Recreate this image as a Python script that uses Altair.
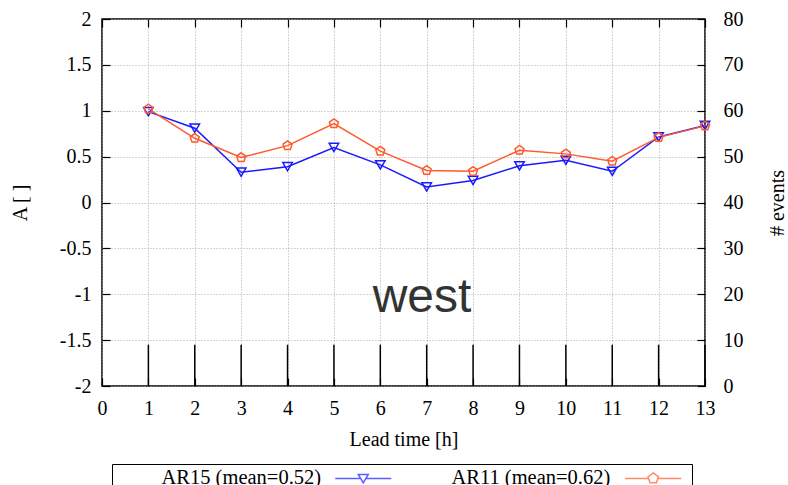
import altair as alt
import pandas as pd

# ---------------- data ----------------
lead_time = [1, 2, 3, 4, 5, 6, 7, 8, 9, 10, 11, 12, 13]
ar15_values = [0.99, 0.81, 0.33, 0.39, 0.60, 0.41, 0.17, 0.24, 0.40, 0.46, 0.34, 0.715, 0.84]
ar11_values = [1.02, 0.70, 0.49, 0.62, 0.86, 0.56, 0.35, 0.34, 0.57, 0.53, 0.45, 0.71, 0.835]
event_counts = [9, 9, 9, 9, 9, 9, 9, 9, 9, 9, 9, 9, 9]
series_names = ["AR15 (mean=0.52)", "AR11 (mean=0.62)"]
x_ticks = [0, 1, 2, 3, 4, 5, 6, 7, 8, 9, 10, 11, 12, 13]
a_ticks = [-2, -1.5, -1, -0.5, 0, 0.5, 1, 1.5, 2]
event_ticks = [0, 10, 20, 30, 40, 50, 60, 70, 80]
region_label = ["west"]

# ---------------- styles ----------------
series_colors = ["#1a1aff", "#ff5a2b"]
PENT = "M0,-1L0.951,-0.309L0.588,0.809L-0.588,0.809L-0.951,-0.309Z"
# legend samples: drawn to the right of the label (path units = 5 px)
LEG_TRI = ("M36.8,0L41.87,0M42.93,0L48.0,0"
           "M41.4,-0.8L43.4,-0.8L42.4,0.9Z"
           "M48.6,0L48.6,0")
LEG_PENT = ("M36.8,0L41.46,0M43.34,0L48.0,0"
            "M42.4,-1.1L43.446,-0.34L43.047,0.89L41.753,0.89L41.354,-0.34Z"
            "M48.6,0L48.6,0")
SERIF = "Liberation Serif"
W, H = 603, 367
LABEL_X, LABEL_Y = 6.9, -1.19

rows = []
for i, (name, vals) in enumerate(zip(series_names, [ar15_values, ar11_values])):
    for t, v in zip(lead_time, vals):
        rows.append({"lead": t, "A": v, "series": name, "order": i})
series_df = pd.DataFrame(rows)
events_df = pd.DataFrame({"lead": lead_time, "events": event_counts})
label_df = pd.DataFrame({"lead": [LABEL_X], "A": [LABEL_Y], "text": region_label})

x_scale = alt.Scale(domain=[0, 13], nice=False, zero=False)
a_scale = alt.Scale(domain=[-2, 2], nice=False, zero=False)
ev_scale = alt.Scale(domain=[0, 80], nice=False)

x_enc = alt.X(
    "lead:Q", scale=x_scale,
    axis=alt.Axis(orient="bottom", values=x_ticks, title="Lead time [h]", grid=True,
                  offset=-8, tickSize=8, domain=False, labelPadding=12, titlePadding=11,
                  labelFlush=False, labelOverlap=False, labelExpr="toString(datum.value)"),
)
y_enc = alt.Y(
    "A:Q", scale=a_scale,
    axis=alt.Axis(orient="left", values=a_ticks, title="A [ ]", grid=True,
                  offset=-8, tickSize=8, domain=False, labelPadding=11,
                  titleAngle=270, titleBaseline="alphabetic", titleAlign="center",
                  titleX=-84, titleY=H / 2,
                  labelExpr="toString(datum.value)"),
)

zero_line = alt.Chart(series_df).mark_rule(color="black", strokeWidth=1).encode(
    x=x_enc, y=alt.datum(0)
).transform_filter("datum.order == 0 && datum.lead == 1")

lines = alt.Chart(series_df).mark_line(strokeWidth=1.5).encode(
    x=x_enc, y=y_enc,
    color=alt.Color("series:N", scale=alt.Scale(domain=series_names, range=series_colors), legend=None),
    order="lead:Q",
)

points = alt.Chart(series_df).mark_point(filled=False, size=90, strokeWidth=1.5, opacity=1).encode(
    x=x_enc, y=y_enc,
    color=alt.Color("series:N", scale=alt.Scale(domain=series_names, range=series_colors), legend=None),
    shape=alt.Shape("series:N", scale=alt.Scale(domain=series_names, range=["triangle-down", PENT]), legend=None),
)

text = alt.Chart(label_df).mark_text(
    font="Liberation Sans", fontSize=48, color="#333333", align="center", baseline="alphabetic"
).encode(x=x_enc, y=y_enc, text="text:N")

a_layers = alt.layer(zero_line, lines, points, text)

events_layer = alt.Chart(events_df).mark_rule(color="black", strokeWidth=1.5).encode(
    x=alt.X("lead:Q", scale=x_scale,
            axis=alt.Axis(orient="top", values=x_ticks, labels=False, title=None, grid=False,
                          offset=-8, tickSize=8, domain=False)),
    y=alt.Y("events:Q", scale=ev_scale,
            axis=alt.Axis(orient="right", values=event_ticks, title="# events", grid=False,
                          offset=-8, tickSize=8, domain=False, labelPadding=18,
                          titleAngle=270, titleBaseline="alphabetic", titleAlign="center",
                          titleX=86, titleY=H / 2)),
    y2=alt.datum(0),
)

legend_obj = alt.Legend(
    title=" ", titleOrient="left", titlePadding=25, titleFontSize=20, titleFont=SERIF,
    orient="none", direction="horizontal", legendX=10, legendY=445,
    labelAlign="left", labelOffset=0, symbolOffset=0, symbolSize=100, symbolStrokeWidth=1.5,
    labelFont=SERIF, labelFontSize=20.5, labelColor="black", labelLimit=400,
    strokeColor="black", padding=4, columnPadding=33, symbolFillColor="white",
)
legend_layer = alt.Chart(series_df).transform_filter("false").mark_point(
    filled=False, size=100, strokeWidth=1.5
).encode(
    x=alt.X("lead:Q", scale=x_scale, axis=None),
    y=alt.Y("A:Q", scale=a_scale, axis=None),
    color=alt.Color("series:N", scale=alt.Scale(domain=series_names, range=series_colors), legend=legend_obj),
    shape=alt.Shape("series:N", scale=alt.Scale(domain=series_names, range=[LEG_TRI, LEG_PENT]), legend=legend_obj),
)

chart = alt.layer(events_layer, a_layers, legend_layer).resolve_scale(
    y="independent", color="independent", shape="independent"
).resolve_axis(x="independent").properties(
    width=W, height=H, autosize="none",
    padding={"left": 102, "top": 19, "right": 83, "bottom": 99},
    background="white",
).configure_view(stroke="black", strokeWidth=1.5).configure_axis(
    labelFont=SERIF, labelFontSize=20, labelColor="black",
    titleFont=SERIF, titleFontSize=20, titleFontWeight="normal", titleColor="black",
    tickColor="black", tickWidth=1.2,
    gridColor="#ababab", gridDash=[1, 2], gridWidth=1, gridOpacity=1,
)

chart.save("out.html", embed_options={"renderer": "svg", "actions": False})
